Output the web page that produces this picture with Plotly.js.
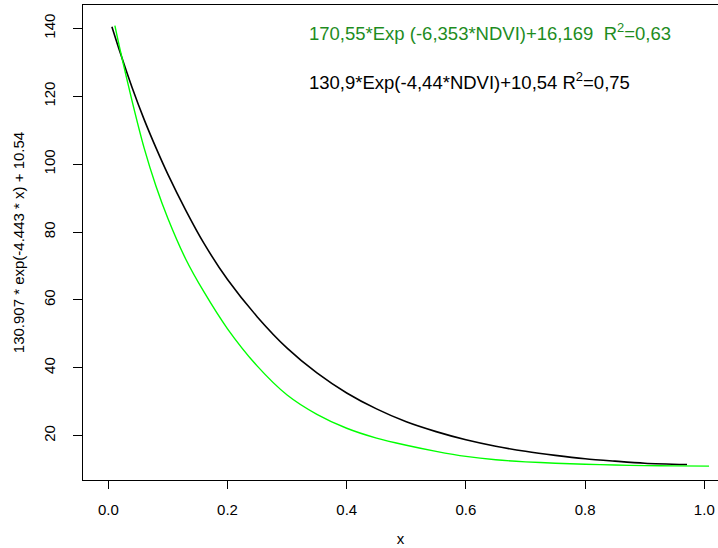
<!DOCTYPE html>
<html>
<head>
<meta charset="utf-8">
<script src="https://cdn.plot.ly/plotly-3.0.1.min.js"></script>
<style>html,body{margin:0;padding:0;background:#fff;}#chart{width:718px;height:548px;}</style>
</head>
<body>
<div id="chart"></div>
<script>
// Black curve: 130.907*exp(-4.443*x)+10.54
const blackX = [0.006, 0.02, 0.04, 0.06, 0.08, 0.10, 0.13, 0.16, 0.20, 0.25, 0.30, 0.35, 0.40, 0.45, 0.50, 0.55, 0.60, 0.65, 0.70, 0.75, 0.80, 0.85, 0.90, 0.971];
const blackY = [140.5, 132.8, 122.5, 113.2, 104.8, 97.0, 86.4, 76.8, 66.0, 55.0, 45.8, 38.5, 32.6, 27.9, 24.1, 21.2, 18.8, 16.9, 15.4, 14.2, 13.2, 12.5, 11.9, 11.5];
// Green curve
const greenX = [0.011, 0.02, 0.04, 0.06, 0.08, 0.10, 0.13, 0.16, 0.20, 0.25, 0.30, 0.35, 0.40, 0.45, 0.50, 0.55, 0.60, 0.65, 0.70, 0.75, 0.80, 0.85, 0.90, 0.95, 1.008];
const greenY = [140.8, 133.5, 118.5, 104.8, 93.5, 84.0, 72.0, 62.5, 51.5, 40.5, 32.0, 26.3, 22.2, 19.3, 17.2, 15.4, 13.9, 12.9, 12.3, 11.9, 11.6, 11.35, 11.2, 11.1, 11.05];
const xTicks = [0.0, 0.2, 0.4, 0.6, 0.8, 1.0];
const xTickText = ["0.0", "0.2", "0.4", "0.6", "0.8", "1.0"];
const yTicks = [20, 40, 60, 80, 100, 120, 140];
const greenLabel = "170,55*Exp (-6,353*NDVI)+16,169  R<sup>2</sup>=0,63";
const blackLabel = "130,9*Exp(-4,44*NDVI)+10,54 R<sup>2</sup>=0,75";
const xTitle = "x";
const yTitle = "130.907 * exp(-4.443 * x) + 10.54";

const FONT = "Liberation Sans, Arial, Helvetica, sans-serif";

const traces = [
  {x: blackX, y: blackY, mode: "lines", line: {color: "#000000", width: 1.6, shape: "spline", smoothing: 0.8}, hoverinfo: "skip"},
  {x: greenX, y: greenY, mode: "lines", line: {color: "#00ff00", width: 1.4, shape: "spline", smoothing: 0.8}, hoverinfo: "skip"}
];

const layout = {
  width: 718, height: 548,
  margin: {l: 83, r: 0, t: 5, b: 68, pad: 0},
  paper_bgcolor: "#ffffff", plot_bgcolor: "#ffffff",
  showlegend: false,
  font: {family: FONT, size: 15, color: "#000"},
  xaxis: {
    range: [-0.0425, 1.023], showgrid: false, zeroline: false,
    showline: true, linecolor: "#000", linewidth: 1, mirror: true,
    ticks: "outside", ticklen: 8, tickcolor: "#000", tickwidth: 1,
    tickvals: xTicks, ticktext: xTickText, ticklabelstandoff: 8,
    tickfont: {family: FONT, size: 15, color: "#000"},
    title: {text: xTitle, font: {family: FONT, size: 15, color: "#000"}, standoff: 16}
  },
  yaxis: {
    range: [6.95, 146.9], showgrid: false, zeroline: false,
    showline: true, linecolor: "#000", linewidth: 1, mirror: true,
    ticks: "outside", ticklen: 9, tickcolor: "#000", tickwidth: 1,
    tickvals: yTicks, tickangle: -90, ticklabelstandoff: 12,
    tickfont: {family: FONT, size: 15, color: "#000"},
    title: {text: yTitle, font: {family: FONT, size: 15, color: "#000"}, standoff: 12}
  },
  annotations: [
    {x: 0.3334, y: 139.0, xref: "x", yref: "y", xanchor: "left", yanchor: "middle", showarrow: false,
     text: greenLabel, font: {family: FONT, size: 18.5, color: "#1e8c1e"}},
    {x: 0.3334, y: 124.6, xref: "x", yref: "y", xanchor: "left", yanchor: "middle", showarrow: false,
     text: blackLabel, font: {family: FONT, size: 18.5, color: "#000"}}
  ]
};

Plotly.newPlot("chart", traces, layout, {displayModeBar: false, staticPlot: true});
</script>
</body>
</html>
